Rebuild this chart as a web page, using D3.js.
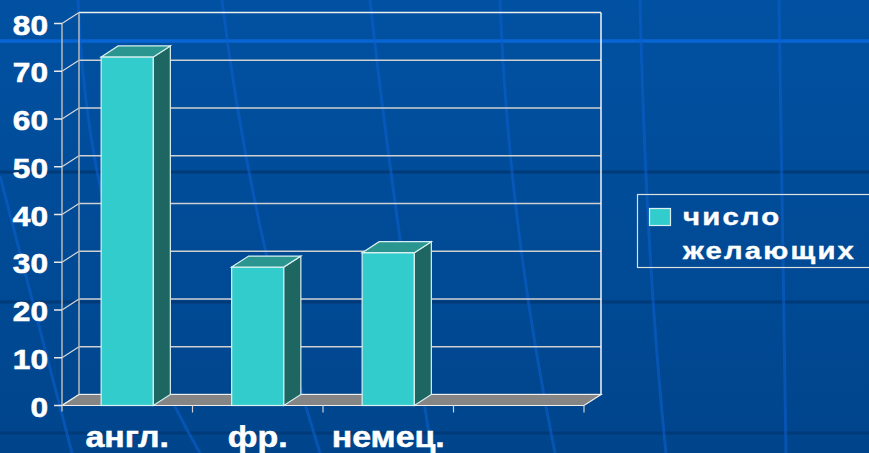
<!DOCTYPE html>
<html><head><meta charset="utf-8">
<script src="https://cdn.jsdelivr.net/npm/d3@7"></script>
<style>html,body{margin:0;padding:0;background:#004c99;}svg{display:block;}</style>
</head><body>
<script>
const categories = ["англ.", "фр.", "немец.", ""];
const values = [73, 29, 32, null];
const seriesName = ["число", "желающих"];
const yTicks = [0, 10, 20, 30, 40, 50, 60, 70, 80];

const W = 869, H = 453;
const svg = d3.select("body").append("svg").attr("width", W).attr("height", H);
const defs = svg.append("defs");
const g0 = defs.append("linearGradient").attr("id","bg").attr("x1",0).attr("y1",0).attr("x2",0).attr("y2",1);
g0.append("stop").attr("offset","0%").attr("stop-color","#0151a2");
g0.append("stop").attr("offset","100%").attr("stop-color","#00458c");
svg.append("rect").attr("width",W).attr("height",H).attr("fill","url(#bg)");

// decorative template lines
const deco = svg.append("g");
[41].forEach(y => deco.append("line").attr("x1",0).attr("x2",W).attr("y1",y).attr("y2",y).attr("stroke","#0866d4").attr("stroke-width",3.5));
[172,302,433].forEach(y => deco.append("line").attr("x1",0).attr("x2",W).attr("y1",y).attr("y2",y).attr("stroke","#003a78").attr("stroke-width",3));
["M78,0 Q88,260 200,453","M222,0 Q250,230 320,453","M370,0 Q392,200 432,453","M500,0 Q508,220 555,453",
 "M640,0 Q646,260 666,453","M779,0 L786,453","M0,176 L72,453"].forEach(d =>
  deco.append("path").attr("d",d).attr("fill","none").attr("stroke","#0a5fcc").attr("stroke-width",3).attr("opacity",0.6));

// geometry
const x0 = 62, x1 = 584, dx = 17, dy = -11;
const x = d3.scaleBand().domain(categories).range([x0, x1]).paddingInner(0).paddingOuter(0);
const y = d3.scaleLinear().domain([0, 80]).range([405.5, 23.5]);
const barW = x.bandwidth() * 0.4;

const chart = svg.append("g");
yTicks.forEach(t => {
  chart.append("line").attr("x1", x0+dx).attr("x2", x1+dx).attr("y1", y(t)+dy).attr("y2", y(t)+dy)
    .attr("stroke", t===80 ? "#f0f0f0" : "#d0d0d0").attr("stroke-width", 1.5);
  chart.append("line").attr("x1", x0).attr("x2", x0+dx).attr("y1", y(t)).attr("y2", y(t)+dy)
    .attr("stroke","#d8d8d8").attr("stroke-width",1.2);
});
chart.append("line").attr("x1",x0+dx).attr("x2",x0+dx).attr("y1",y(80)+dy).attr("y2",y(0)+dy).attr("stroke","#b8b8b8").attr("stroke-width",1.5);
chart.append("line").attr("x1",x1+dx).attr("x2",x1+dx).attr("y1",y(80)+dy).attr("y2",y(0)+dy).attr("stroke","#f4f4f4").attr("stroke-width",1.5);

chart.append("polygon")
  .attr("points", [[x0,y(0)],[x1,y(0)],[x1+dx,y(0)+dy],[x0+dx,y(0)+dy]].map(p=>p.join(",")).join(" "))
  .attr("fill","#858585").attr("stroke","#eeeeee").attr("stroke-width",1.2);

const bars = chart.selectAll("g.bar").data(categories.map((c,i)=>({c, v: values[i]})).filter(d=>d.v!=null))
  .enter().append("g").attr("class","bar");
bars.each(function(d){
  const g = d3.select(this);
  const bx = x(d.c) + (x.bandwidth()-barW)/2, bt = y(d.v), bb = y(0);
  g.append("rect").attr("x",bx).attr("y",bt).attr("width",barW).attr("height",bb-bt)
    .attr("fill","#33cccc").attr("stroke","#d8f0f0").attr("stroke-width",1.2);
  g.append("polygon").attr("points",[[bx+barW,bt],[bx+barW+dx,bt+dy],[bx+barW+dx,bb+dy],[bx+barW,bb]].map(p=>p.join(",")).join(" "))
    .attr("fill","#1e6661").attr("stroke","#d8f0f0").attr("stroke-width",1.2);
  g.append("polygon").attr("points",[[bx,bt],[bx+dx,bt+dy],[bx+barW+dx,bt+dy],[bx+barW,bt]].map(p=>p.join(",")).join(" "))
    .attr("fill","#2b9690").attr("stroke","#d8f0f0").attr("stroke-width",1.2);
});

chart.append("line").attr("x1",x0).attr("x2",x0).attr("y1",y(80)).attr("y2",y(0)+6).attr("stroke","#b8b8b8").attr("stroke-width",1.5);
yTicks.forEach(t => chart.append("line").attr("x1",x0-8).attr("x2",x0).attr("y1",y(t)).attr("y2",y(t)).attr("stroke","#e8e8e8").attr("stroke-width",1.5));
const bounds = categories.map(c => x(c)).concat([x1]);
bounds.slice(1).forEach(bx => chart.append("line").attr("x1",bx).attr("x2",bx).attr("y1",y(0)).attr("y2",y(0)+7).attr("stroke","#d0d0d0").attr("stroke-width",1.2));

const FONT = "'Liberation Sans', Arial, sans-serif";
yTicks.forEach(t => {
  svg.append("text").attr("transform",`translate(48,${y(t)+11}) scale(1.15,1)`)
    .attr("text-anchor","end").attr("font-family",FONT).attr("font-weight","bold").attr("font-size",27.5)
    .attr("fill","#ffffff").attr("stroke","#ffffff").attr("stroke-width",0.6).text(t);
});
categories.forEach(c => {
  if (!c) return;
  svg.append("text").attr("transform",`translate(${x(c)+x.bandwidth()/2},447) scale(1.15,1)`)
    .attr("text-anchor","middle").attr("font-family",FONT).attr("font-weight","bold").attr("font-size",29.5)
    .attr("fill","#ffffff").attr("stroke","#ffffff").attr("stroke-width",0.5).text(c);
});

const lg = svg.append("g");
lg.append("rect").attr("x",637.5).attr("y",194.5).attr("width",260).attr("height",73)
  .attr("fill","none").attr("stroke","#e0e0e0").attr("stroke-width",1.2);
lg.append("rect").attr("x",649.5).attr("y",208.5).attr("width",21).attr("height",17)
  .attr("fill","#33cccc").attr("stroke","#d8f0f0").attr("stroke-width",1.2);
seriesName.forEach((s,i) => {
  lg.append("text").attr("transform",`translate(683,${225+i*34}) scale(1.22,1)`)
    .attr("font-family",FONT).attr("font-weight","bold").attr("font-size",24).attr("letter-spacing",1.8)
    .attr("fill","#ffffff").attr("stroke","#ffffff").attr("stroke-width",0.4).text(s);
});
</script>
</body></html>
